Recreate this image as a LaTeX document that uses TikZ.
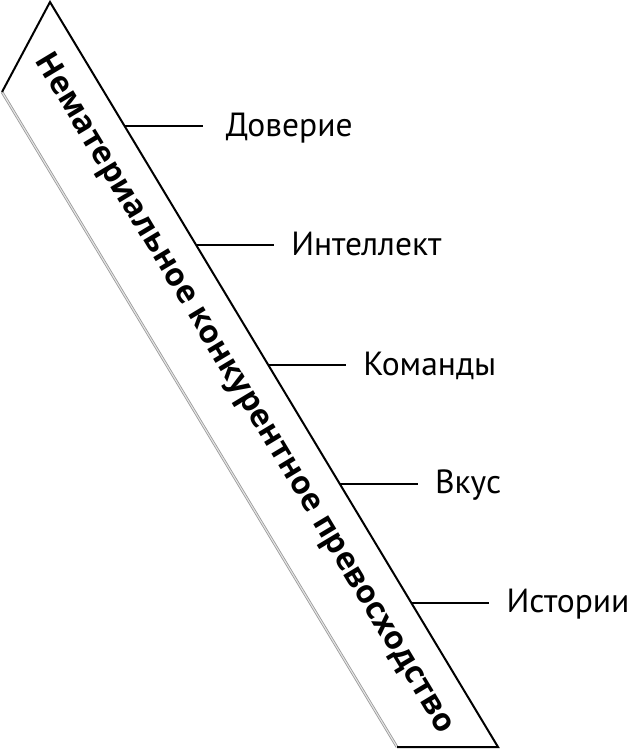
\documentclass[tikz,border=0pt]{standalone}
\usepackage{fontspec}
\setmainfont{PT Sans}
\newfontfamily\mainfam{Open Sans}
\usetikzlibrary{calc}
\begin{document}
\begin{tikzpicture}[x=1pt,y=-1pt,
  edge/.style={black, line width=2pt, line join=miter},
  conn/.style={black, line width=2pt},
  lab/.style={anchor=base west, inner xsep=17pt, inner ysep=0pt, text=black, font=\fontsize{33.5}{30}\selectfont},
  maintext/.style={rotate=-59, inner sep=0pt, font=\mainfam\bfseries\fontsize{31.8}{32}\selectfont}]
\useasboundingbox (0,0) rectangle (633,752);
\coordinate (T) at (50,2);
\coordinate (L) at (2,92);
\coordinate (BL) at (397,747);
\coordinate (BR) at (498,747);
\fill[white] (T)--(L)--(BL)--(BR)--cycle;
\draw[gray!80, double=gray!20, double distance=1.1pt, line width=0.8pt] (L)--(BL);
\draw[edge] (BL)--(BR)--(T)--(L);
\node[maintext] (main) at (244,394) {Нематериальное конкурентное превосходство};
% connector start points on the right edge
\coordinate (c1) at ($(T)!{124/745}!(BR)$);
\coordinate (c2) at ($(T)!{243/745}!(BR)$);
\coordinate (c3) at ($(T)!{363/745}!(BR)$);
\coordinate (c4) at ($(T)!{482/745}!(BR)$);
\coordinate (c5) at ($(T)!{601/745}!(BR)$);
\node[lab, inner xsep=23pt] (l1) at ([xshift=78pt,yshift=-10pt]c1) {Доверие};
\node[lab] (l2) at ([xshift=78pt,yshift=-10pt]c2) {Интеллект};
\node[lab] (l3) at ([xshift=78pt,yshift=-10pt]c3) {Команды};
\node[lab] (l4) at ([xshift=78pt,yshift=-10pt]c4) {Вкус};
\node[lab] (l5) at ([xshift=78pt,yshift=-10pt]c5) {Истории};
\draw[conn] (c1) -- (c1 -| l1.west);
\draw[conn] (c2) -- (c2 -| l2.west);
\draw[conn] (c3) -- (c3 -| l3.west);
\draw[conn] (c4) -- (c4 -| l4.west);
\draw[conn] (c5) -- (c5 -| l5.west);
\end{tikzpicture}
\end{document}
